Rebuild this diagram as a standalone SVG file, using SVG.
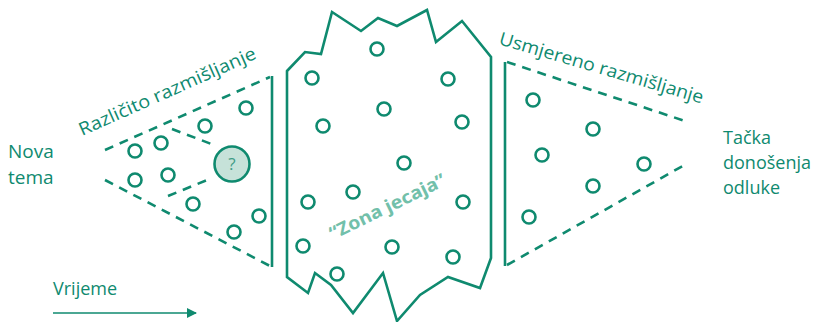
<svg xmlns="http://www.w3.org/2000/svg" width="823" height="322" viewBox="0 0 823 322">
<style>
.ln{fill:none;stroke:#0f8a6f;stroke-width:2.6}
.ds{fill:none;stroke:#0f8a6f;stroke-width:2.6;stroke-dasharray:9 7}
.c{fill:#fff;stroke:#0f8a6f;stroke-width:2.6}
.t{font-family:"Open Sans","Noto Sans",sans-serif;font-size:18px;fill:#0f8a6f}
</style>
<defs>
<marker id="ah" markerWidth="10" markerHeight="10" refX="9" refY="5" orient="auto" markerUnits="userSpaceOnUse" viewBox="0 0 10 10">
<path d="M0,0 L10,5 L0,10 z" fill="#0f8a6f"/>
</marker>
</defs>
<g id="connectors">
<line class="ds" x1="105" y1="150" x2="270" y2="77"/>
<line class="ds" x1="105" y1="180" x2="270" y2="266"/>
<line class="ln" x1="272" y1="76" x2="272" y2="267"/>
<line class="ds" x1="172" y1="129" x2="214" y2="145"/>
<line class="ds" x1="168" y1="196" x2="212" y2="178"/>
<line class="ln" x1="505" y1="62" x2="505" y2="266"/>
<line class="ds" x1="507" y1="62" x2="688" y2="122"/>
<line class="ds" x1="507" y1="265" x2="688" y2="163"/>
<line x1="53" y1="313" x2="196" y2="313" stroke="#0f8a6f" stroke-width="1.6" marker-end="url(#ah)"/>
</g>
<g id="divergent">
<circle class="c" cx="135" cy="151" r="6.5"/>
<circle class="c" cx="161" cy="143" r="6.5"/>
<circle class="c" cx="205" cy="126" r="6.5"/>
<circle class="c" cx="246" cy="108" r="6.5"/>
<circle class="c" cx="135" cy="180" r="6.5"/>
<circle class="c" cx="168" cy="175" r="6.5"/>
<circle class="c" cx="193" cy="204" r="6.5"/>
<circle class="c" cx="234" cy="232" r="6.5"/>
<circle class="c" cx="259" cy="216" r="6.5"/>
<text class="t" transform="translate(82,136) rotate(-24)" textLength="192" lengthAdjust="spacingAndGlyphs">Različito razmišljanje</text>
</g>
<g id="question">
<circle cx="232" cy="164" r="17.5" fill="#c6e2d9" stroke="#0f8a6f" stroke-width="2.6"/>
<text x="232" y="170" text-anchor="middle" class="t" style="font-size:17px;fill:#3f9c85">?</text>
</g>
<g id="zone">
<polygon class="ln" points="287,71 305,52 321,54 332,12 361,31 378,18 397,26 427,10 436,42 462,21 491,57 491,258 480,288 448,277 420,295 397,321 383,273 353,313 331,285 315,273 308,293 287,277"/>
<circle class="c" cx="377" cy="49" r="6.5"/>
<circle class="c" cx="312" cy="78" r="6.5"/>
<circle class="c" cx="448" cy="79" r="6.5"/>
<circle class="c" cx="384" cy="109" r="6.5"/>
<circle class="c" cx="323" cy="126" r="6.5"/>
<circle class="c" cx="462" cy="122" r="6.5"/>
<circle class="c" cx="404" cy="163" r="6.5"/>
<circle class="c" cx="353" cy="192" r="6.5"/>
<circle class="c" cx="308" cy="202" r="6.5"/>
<circle class="c" cx="463" cy="202" r="6.5"/>
<circle class="c" cx="303" cy="246" r="6.5"/>
<circle class="c" cx="392" cy="247" r="6.5"/>
<circle class="c" cx="453" cy="257" r="6.5"/>
<circle class="c" cx="337" cy="274" r="6.5"/>
<text transform="translate(333,240) rotate(-26)" textLength="127" lengthAdjust="spacingAndGlyphs" style="font-family:'Noto Sans','Liberation Sans',sans-serif;font-size:18px;font-weight:700;font-style:normal;fill:#72c0aa">“Zona jecaja”</text>
</g>
<g id="convergent">
<circle class="c" cx="533" cy="100" r="6.5"/>
<circle class="c" cx="593" cy="129" r="6.5"/>
<circle class="c" cx="542" cy="155" r="6.5"/>
<circle class="c" cx="644" cy="164" r="6.5"/>
<circle class="c" cx="593" cy="186" r="6.5"/>
<circle class="c" cx="529" cy="217" r="6.5"/>
<text class="t" transform="translate(498,44) rotate(16.3)" textLength="212" lengthAdjust="spacingAndGlyphs">Usmjereno razmišljanje</text>
</g>
<g id="nova-tema">
<text class="t" x="8" y="158" style="font-size:19px">Nova</text>
<text class="t" x="8" y="184" style="font-size:19px">tema</text>
</g>
<g id="tacka">
<text class="t" x="723" y="144">Tačka</text>
<text class="t" x="723" y="169">donošenja</text>
<text class="t" x="723" y="194">odluke</text>
</g>
<g id="vrijeme">
<text class="t" x="53" y="295">Vrijeme</text>
</g>
</svg>
